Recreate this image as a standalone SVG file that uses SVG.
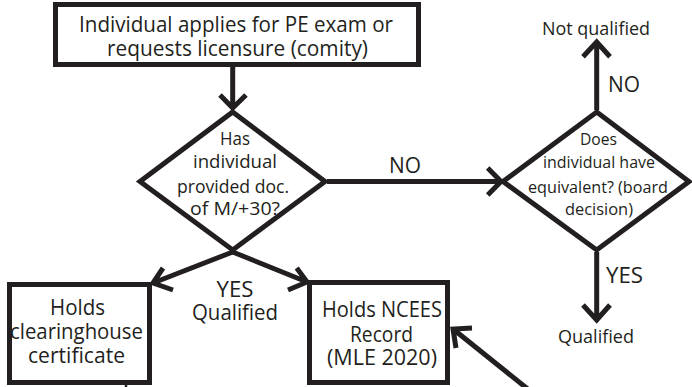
<svg xmlns="http://www.w3.org/2000/svg" width="692" height="387" viewBox="0 0 692 387">
<style>
.shape{fill:#fff;stroke:#231f20;stroke-width:5;stroke-linejoin:miter}
.ln{fill:none;stroke:#231f20;stroke-width:5}
text{font-family:"Open Sans","Noto Sans",sans-serif;fill:#231f20;text-anchor:middle}
.l{font-size:21px}
.m{font-size:17.5px}
.s{font-size:15.5px}
.st{text-anchor:start}
</style>
<rect width="692" height="387" fill="#fff"/>
<g id="connectors">
<path class="ln" d="M232.7,67 V108 M220,95 L232.7,108 L246,95"/>
<path class="ln" d="M327,181.5 H501 M487.7,168 L501,181.5 L487.7,195"/>
<path class="ln" d="M232.7,252 L153,283 M163,268 L153,283 L173,290"/>
<path class="ln" d="M232.7,252 L307,282 M296.7,268 L307,282 L288,290"/>
<path class="ln" d="M596.7,110 V42 M583,56.7 L596.7,42 L610,56.7"/>
<path class="ln" d="M596.7,252 V320 M583,305 L596.7,320 L610,305"/>
<path class="ln" d="M529,390 L453,329 M472,328 L453,329 L456,348"/>
<path class="ln" d="M126,383 V390" style="stroke-width:2.5"/>
</g>
<g id="start">
<rect class="shape" x="55.5" y="4.5" width="363" height="60"/>
<text class="l" x="236" y="32" textLength="314" lengthAdjust="spacingAndGlyphs">Individual applies for PE exam or</text>
<text class="l" x="237.5" y="55.5" textLength="261" lengthAdjust="spacingAndGlyphs">requests licensure (comity)</text>
</g>
<g id="decision1">
<polygon class="shape" points="232.7,112 325,181.5 232.7,250 140,181.5"/>
<text class="m" x="235" y="145" textLength="30" lengthAdjust="spacingAndGlyphs">Has</text>
<text class="m" x="235" y="168" textLength="84" lengthAdjust="spacingAndGlyphs">individual</text>
<text class="m" x="233" y="192.5" textLength="112" lengthAdjust="spacingAndGlyphs">provided doc.</text>
<text class="m" x="235" y="215" textLength="90" lengthAdjust="spacingAndGlyphs">of M/+30?</text>
</g>
<g id="decision2">
<polygon class="shape" points="596.7,112 689,181.5 596.7,250 503,181.5"/>
<text class="s" x="598.5" y="145" textLength="37" lengthAdjust="spacingAndGlyphs">Does</text>
<text class="s" x="599" y="168" textLength="112" lengthAdjust="spacingAndGlyphs">individual have</text>
<text class="s" x="598" y="192.5" textLength="140" lengthAdjust="spacingAndGlyphs">equivalent? (board</text>
<text class="s" x="599" y="215" textLength="68" lengthAdjust="spacingAndGlyphs">decision)</text>
</g>
<g id="clearinghouse">
<rect class="shape" x="9.5" y="284.5" width="140" height="98"/>
<text class="l" x="77.5" y="315" textLength="55" lengthAdjust="spacingAndGlyphs">Holds</text>
<text class="l" x="76.5" y="338.5" textLength="133" lengthAdjust="spacingAndGlyphs">clearinghouse</text>
<text class="l" x="76.5" y="363" textLength="97" lengthAdjust="spacingAndGlyphs">certificate</text>
</g>
<g id="ncees">
<rect class="shape" x="309.5" y="282.5" width="138" height="100"/>
<text class="l" x="382" y="317" textLength="120" lengthAdjust="spacingAndGlyphs">Holds NCEES</text>
<text class="l" x="381.5" y="341.5" textLength="63" lengthAdjust="spacingAndGlyphs">Record</text>
<text class="l" x="382" y="365" textLength="110" lengthAdjust="spacingAndGlyphs">(MLE 2020)</text>
</g>
<g id="labels">
<text class="l" x="405" y="173" textLength="32" lengthAdjust="spacingAndGlyphs">NO</text>
<text class="l st" x="608" y="92" textLength="32" lengthAdjust="spacingAndGlyphs">NO</text>
<text class="l" x="235" y="297" textLength="37" lengthAdjust="spacingAndGlyphs">YES</text>
<text class="l" x="235" y="320" textLength="86" lengthAdjust="spacingAndGlyphs">Qualified</text>
<text class="l st" x="606" y="283" textLength="37" lengthAdjust="spacingAndGlyphs">YES</text>
</g>
<g id="outcome-not-qualified">
<text class="m" x="596" y="35" textLength="108" lengthAdjust="spacingAndGlyphs">Not qualified</text>
</g>
<g id="outcome-qualified">
<text class="m" x="596" y="343" textLength="76" lengthAdjust="spacingAndGlyphs">Qualified</text>
</g>
</svg>
